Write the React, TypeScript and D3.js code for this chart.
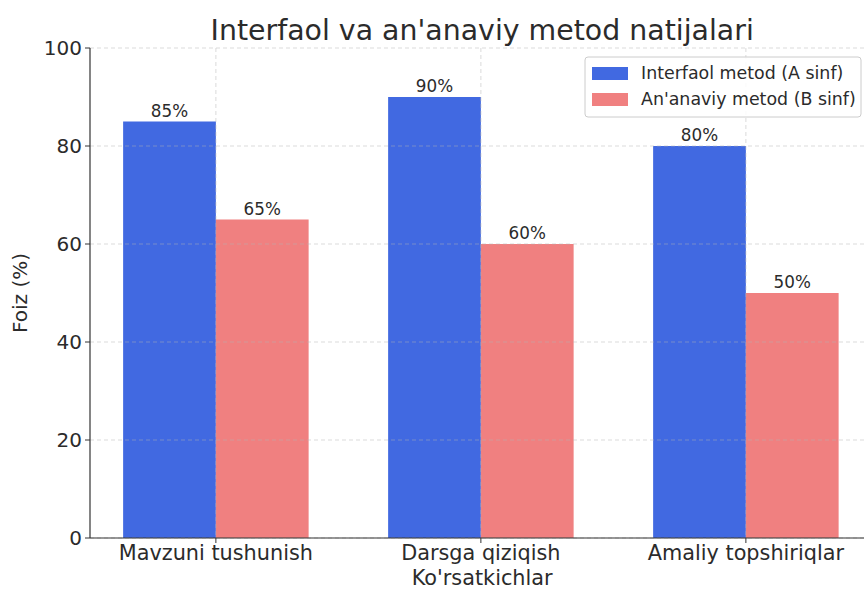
import React from "react";
import * as d3 from "d3";

const categories = ["Mavzuni tushunish", "Darsga qiziqish", "Amaliy topshiriqlar"];
const seriesNames = ["Interfaol metod (A sinf)", "An'anaviy metod (B sinf)"];
const interfaolValues = [85, 90, 80];
const ananaviyValues = [65, 60, 50];
const yTicks = [0, 20, 40, 60, 80, 100];
const colors = ["#4169E1", "#F08080"];

const W = 864;
const H = 590;
const LEFT = 90;
const RIGHT = 874.4;
const TOP = 48;
const BOTTOM = 538;
const BAR_W = 0.35;
const FONT = "DejaVu Sans, sans-serif";
const TEXT = "#2b2b2b";

export default function App() {
  const x = d3.scaleLinear().domain([-0.475, 2.485]).range([LEFT, RIGHT]);
  const y = d3.scaleLinear().domain([0, 100]).range([BOTTOM, TOP]);
  const series = [interfaolValues, ananaviyValues];

  return (
    <svg
      width={W}
      height={H}
      style={{ position: "absolute", left: 0, top: 0, background: "#fff" }}
      fontFamily={FONT}
    >
      {/* bars */}
      {series.map((vals, si) =>
        vals.map((v, i) => {
          const x0 = x(i + (si === 0 ? -BAR_W : 0));
          const x1 = x(i + (si === 0 ? 0 : BAR_W));
          return (
            <g key={`${si}-${i}`}>
              <rect x={x0} y={y(v)} width={x1 - x0} height={y(0) - y(v)} fill={colors[si]} />
              <text
                x={(x0 + x1) / 2}
                y={y(v) - 5}
                textAnchor="middle"
                fontSize={16.8}
                fill={TEXT}
              >
                {v}%
              </text>
            </g>
          );
        })
      )}

      {/* grid on top */}
      <g stroke="#b0b0b0" strokeOpacity={0.6} strokeDasharray="4,3" strokeWidth={0.8}>
        {yTicks.map((t) => (
          <line key={t} x1={LEFT} x2={W} y1={y(t)} y2={y(t)} />
        ))}
        {categories.map((c, i) => (
          <line key={c} x1={x(i)} x2={x(i)} y1={TOP} y2={BOTTOM} />
        ))}
      </g>

      {/* axes */}
      <line x1={LEFT} x2={LEFT} y1={TOP} y2={BOTTOM} stroke="#333" strokeWidth={1.2} />
      <line x1={LEFT} x2={W} y1={BOTTOM} y2={BOTTOM} stroke="#333" strokeWidth={1.2} />
      {yTicks.map((t) => (
        <g key={t}>
          <line x1={LEFT - 5} x2={LEFT} y1={y(t)} y2={y(t)} stroke="#333" strokeWidth={1} />
          <text x={LEFT - 8} y={y(t)} dy="0.35em" textAnchor="end" fontSize={20} fill={TEXT}>
            {t}
          </text>
        </g>
      ))}
      {categories.map((c, i) => (
        <g key={c}>
          <line x1={x(i)} x2={x(i)} y1={BOTTOM} y2={BOTTOM + 5} stroke="#333" strokeWidth={1} />
          <text x={x(i)} y={BOTTOM + 22} textAnchor="middle" fontSize={20.8} fill={TEXT}>
            {c}
          </text>
        </g>
      ))}

      <text x={(LEFT + RIGHT) / 2} y={585} textAnchor="middle" fontSize={20.8} fill={TEXT}>
        Ko'rsatkichlar
      </text>
      <text
        transform={`translate(27,${(TOP + BOTTOM) / 2}) rotate(-90)`}
        textAnchor="middle"
        fontSize={20}
        fill={TEXT}
      >
        Foiz (%)
      </text>
      <text x={(LEFT + RIGHT) / 2} y={40} textAnchor="middle" fontSize={28.4} fill={TEXT}>
        Interfaol va an'anaviy metod natijalari
      </text>

      {/* legend */}
      <g>
        <rect x={585} y={57} width={276} height={60} rx={3} fill="#fff" fillOpacity={0.85} stroke="#ccc" />
        {seriesNames.map((s, i) => (
          <g key={s} transform={`translate(592,${73 + i * 26})`}>
            <rect x={0} y={-6} width={36} height={13} fill={colors[i]} />
            <text x={49} y={0} dy="0.35em" fontSize={17.4} fill={TEXT}>
              {s}
            </text>
          </g>
        ))}
      </g>
    </svg>
  );
}
